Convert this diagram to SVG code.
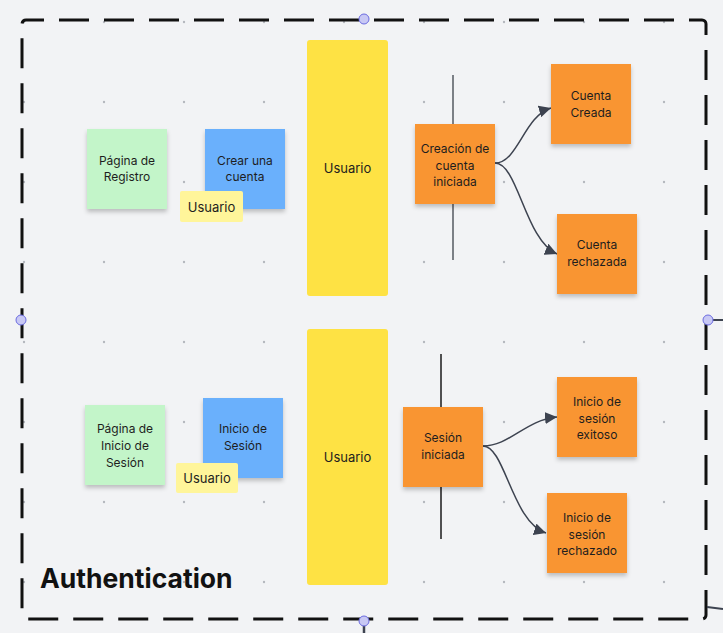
<svg xmlns="http://www.w3.org/2000/svg" width="723" height="633" viewBox="0 0 723 633">
<style>
.t{font-family:Inter,"Liberation Sans",sans-serif;font-size:12px;fill:#1e1e1e;text-anchor:middle}
.tl{font-family:Inter,"Liberation Sans",sans-serif;font-size:13px;fill:#1e1e1e;text-anchor:middle}
.green{fill:#c3f5c9}
.blue{fill:#6bb0fc}
.orange{fill:#f99533}
.note{filter:url(#sh)}
.conn{fill:none;stroke:#3d4350;stroke-width:1.5}
.dot{fill:#b4b8be}
.handle{fill:#c8c8f4;stroke:#6b6be0;stroke-width:1}
</style>
<defs>
<filter id="sh" x="-20%" y="-20%" width="140%" height="150%">
<feDropShadow dx="0" dy="3" stdDeviation="2" flood-color="#000" flood-opacity="0.22"/>
</filter>
<marker id="arr" markerUnits="userSpaceOnUse" markerWidth="12" markerHeight="12" viewBox="0 0 10 10" refX="10" refY="5" orient="auto">
<path d="M0,0 L10,5 L0,10 z" fill="#3d4350"/>
</marker>
<pattern id="grid" x="24" y="22" width="80" height="80" patternUnits="userSpaceOnUse">
<circle cx="0" cy="0" r="1.2" class="dot"/>
<circle cx="80" cy="0" r="1.2" class="dot"/>
<circle cx="0" cy="80" r="1.2" class="dot"/>
<circle cx="80" cy="80" r="1.2" class="dot"/>
</pattern>
</defs>
<rect width="723" height="633" fill="#f2f3f5"/>
<rect x="20" y="18" width="690" height="600" fill="url(#grid)"/>
<g id="frame">
<rect x="22" y="20" width="684" height="599" rx="4" fill="none" stroke="#111" stroke-width="3" stroke-dasharray="30 15" stroke-dashoffset="12"/>
<line x1="708" y1="320" x2="723" y2="320" stroke="#3d4350" stroke-width="2"/>
<line x1="364" y1="621" x2="364" y2="633" stroke="#3d4350" stroke-width="2.5"/>
<line x1="707" y1="607" x2="723" y2="609" stroke="#3d4350" stroke-width="2"/>
<circle cx="364" cy="19" r="5" class="handle"/>
<circle cx="21" cy="320" r="5" class="handle"/>
<circle cx="708" cy="320" r="5" class="handle"/>
<circle cx="364" cy="621" r="5" class="handle"/>
<text x="40" y="588" font-family="Inter,'Liberation Sans',sans-serif" font-size="26.5" font-weight="700" fill="#111">Authentication</text>
</g>
<g id="lines">
<line x1="453" y1="75" x2="453" y2="260" stroke="#555a60" stroke-width="1.5"/>
<line x1="441" y1="354" x2="441" y2="539" stroke="#1a1a1a" stroke-width="1.5"/>
</g>
<g id="connectors">
<path class="conn" d="M495,163 C518,163 524,116 551,108" marker-end="url(#arr)"/>
<path class="conn" d="M495,163 C518,163 525,240 557,254" marker-end="url(#arr)"/>
<path class="conn" d="M483,446 C510,446 525,420 557,417" marker-end="url(#arr)"/>
<path class="conn" d="M483,446 C505,446 512,522 546,533" marker-end="url(#arr)"/>
</g>
<g id="n-pagina-registro">
<rect class="green note" x="87" y="129" width="80" height="80"/>
<text class="t" x="127" y="165">Página de</text>
<text class="t" x="127" y="181">Registro</text>
</g>
<g id="n-crear-cuenta">
<rect class="blue note" x="205" y="129" width="80" height="80"/>
<text class="t" x="245" y="165">Crear una</text>
<text class="t" x="245" y="181">cuenta</text>
</g>
<g id="n-usuario-small-1">
<rect x="180" y="191" width="63" height="31" rx="2" fill="#fff59a"/>
<text class="tl" x="211.5" y="211.5">Usuario</text>
</g>
<g id="n-usuario-big-1">
<rect x="307" y="40" width="81" height="256" rx="3" fill="#fee244"/>
<text class="tl" x="347.5" y="173">Usuario</text>
</g>
<g id="n-creacion">
<rect class="orange note" x="415" y="124" width="80" height="80"/>
<text class="t" x="455" y="153">Creación de</text>
<text class="t" x="455" y="170">cuenta</text>
<text class="t" x="455" y="186">iniciada</text>
</g>
<g id="n-cuenta-creada">
<rect class="orange note" x="551" y="64" width="80" height="80"/>
<text class="t" x="591" y="100">Cuenta</text>
<text class="t" x="591" y="117">Creada</text>
</g>
<g id="n-cuenta-rechazada">
<rect class="orange note" x="557" y="214" width="80" height="80"/>
<text class="t" x="597" y="249">Cuenta</text>
<text class="t" x="597" y="266">rechazada</text>
</g>
<g id="n-pagina-inicio">
<rect class="green note" x="85" y="405" width="80" height="80"/>
<text class="t" x="125" y="433">Página de</text>
<text class="t" x="125" y="450">Inicio de</text>
<text class="t" x="125" y="467">Sesión</text>
</g>
<g id="n-inicio-sesion">
<rect class="blue note" x="203" y="398" width="80" height="80"/>
<text class="t" x="243" y="433">Inicio de</text>
<text class="t" x="243" y="450">Sesión</text>
</g>
<g id="n-usuario-small-2">
<rect x="176" y="463" width="62" height="30" rx="2" fill="#fff59a"/>
<text class="tl" x="207" y="483">Usuario</text>
</g>
<g id="n-usuario-big-2">
<rect x="307" y="329" width="81" height="256" rx="3" fill="#fee244"/>
<text class="tl" x="347.5" y="462">Usuario</text>
</g>
<g id="n-sesion-iniciada">
<rect class="orange note" x="403" y="407" width="80" height="80"/>
<text class="t" x="443" y="442">Sesión</text>
<text class="t" x="443" y="459">iniciada</text>
</g>
<g id="n-exitoso">
<rect class="orange note" x="557" y="377" width="80" height="80"/>
<text class="t" x="597" y="406">Inicio de</text>
<text class="t" x="597" y="423">sesión</text>
<text class="t" x="597" y="439">exitoso</text>
</g>
<g id="n-rechazado">
<rect class="orange note" x="547" y="493" width="80" height="80"/>
<text class="t" x="587" y="522">Inicio de</text>
<text class="t" x="587" y="539">sesión</text>
<text class="t" x="587" y="555">rechazado</text>
</g>
</svg>
